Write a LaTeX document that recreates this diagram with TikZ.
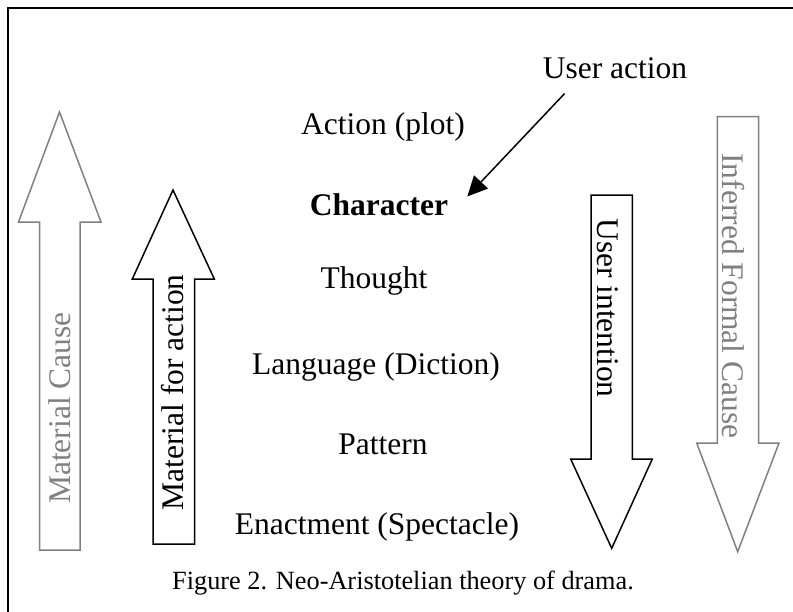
\documentclass[tikz,border=0pt]{standalone}
\usepackage{fontspec}
\setmainfont{Liberation Serif}
\usetikzlibrary{arrows.meta}
\begin{document}
\begin{tikzpicture}[x=1pt,y=-1pt,line join=miter,
    lbl/.style={inner sep=0pt,anchor=base,font=\fontsize{31.5}{36}\selectfont},
    blk/.style={line width=1.5pt,fill=white},
    grey/.style={draw=gray,text=gray},
    useraction/.style={line width=1.5pt,-{Triangle[length=20pt,width=19pt]}}]
    \useasboundingbox (0,0) rectangle (793,611);
    \draw[line width=2pt] (7.5,630)--(7.5,7.5)--(810,7.5);
    % block arrows
    \draw[blk,grey] (39.5,550)--(39.5,222)--(18.5,222)--(59.5,112)--(101,222)--(80,222)--(80,550)--cycle;
    \draw[blk] (153,544)--(153,279)--(132.3,279)--(173,190)--(214.3,279)--(194.7,279)--(194.7,544)--cycle;
    \draw[blk] (591,195)--(591,459)--(570.7,459)--(611.7,548.3)--(652.3,459)--(632.3,459)--(632.3,195)--cycle;
    \draw[blk,grey] (717.3,116.7)--(717.3,443)--(696.7,443)--(737.7,551.7)--(779,443)--(758.7,443)--(758.7,116.7)--cycle;
    \node[lbl,grey,draw=none,rotate=90] (mcause) at (70,408) {Material Cause};
    \node[lbl,rotate=90] (mact) at (183,392.5) {Material for action};
    \node[lbl,rotate=-90] (uint) at (597.5,308) {User intention};
    \node[lbl,grey,draw=none,rotate=-90] (fcause) at (722,296) {Inferred Formal Cause};
    % levels
    \node[lbl] (ua) at (615,78) {User action};
    \node[lbl] (plot) at (383,134.5) {Action (plot)};
    \node[lbl,font=\fontsize{31.5}{36}\selectfont\bfseries] (char) at (379,215.5) {Character};
    \node[lbl] (thought) at (374,288) {Thought};
    \node[lbl] (lang) at (376,374) {Language (Diction)};
    \node[lbl] (pattern) at (383,454) {Pattern};
    \node[lbl] (enact) at (377,534) {Enactment (Spectacle)};
    \node[lbl,font=\fontsize{26.3}{30}\selectfont] (caption) at (403,589) {Figure 2. Neo-Aristotelian theory of drama.};
    \draw[useraction] ([xshift=22pt,yshift=-15pt]ua.south west)--([xshift=19pt,yshift=-3pt]char.north east);
\end{tikzpicture}
\end{document}
